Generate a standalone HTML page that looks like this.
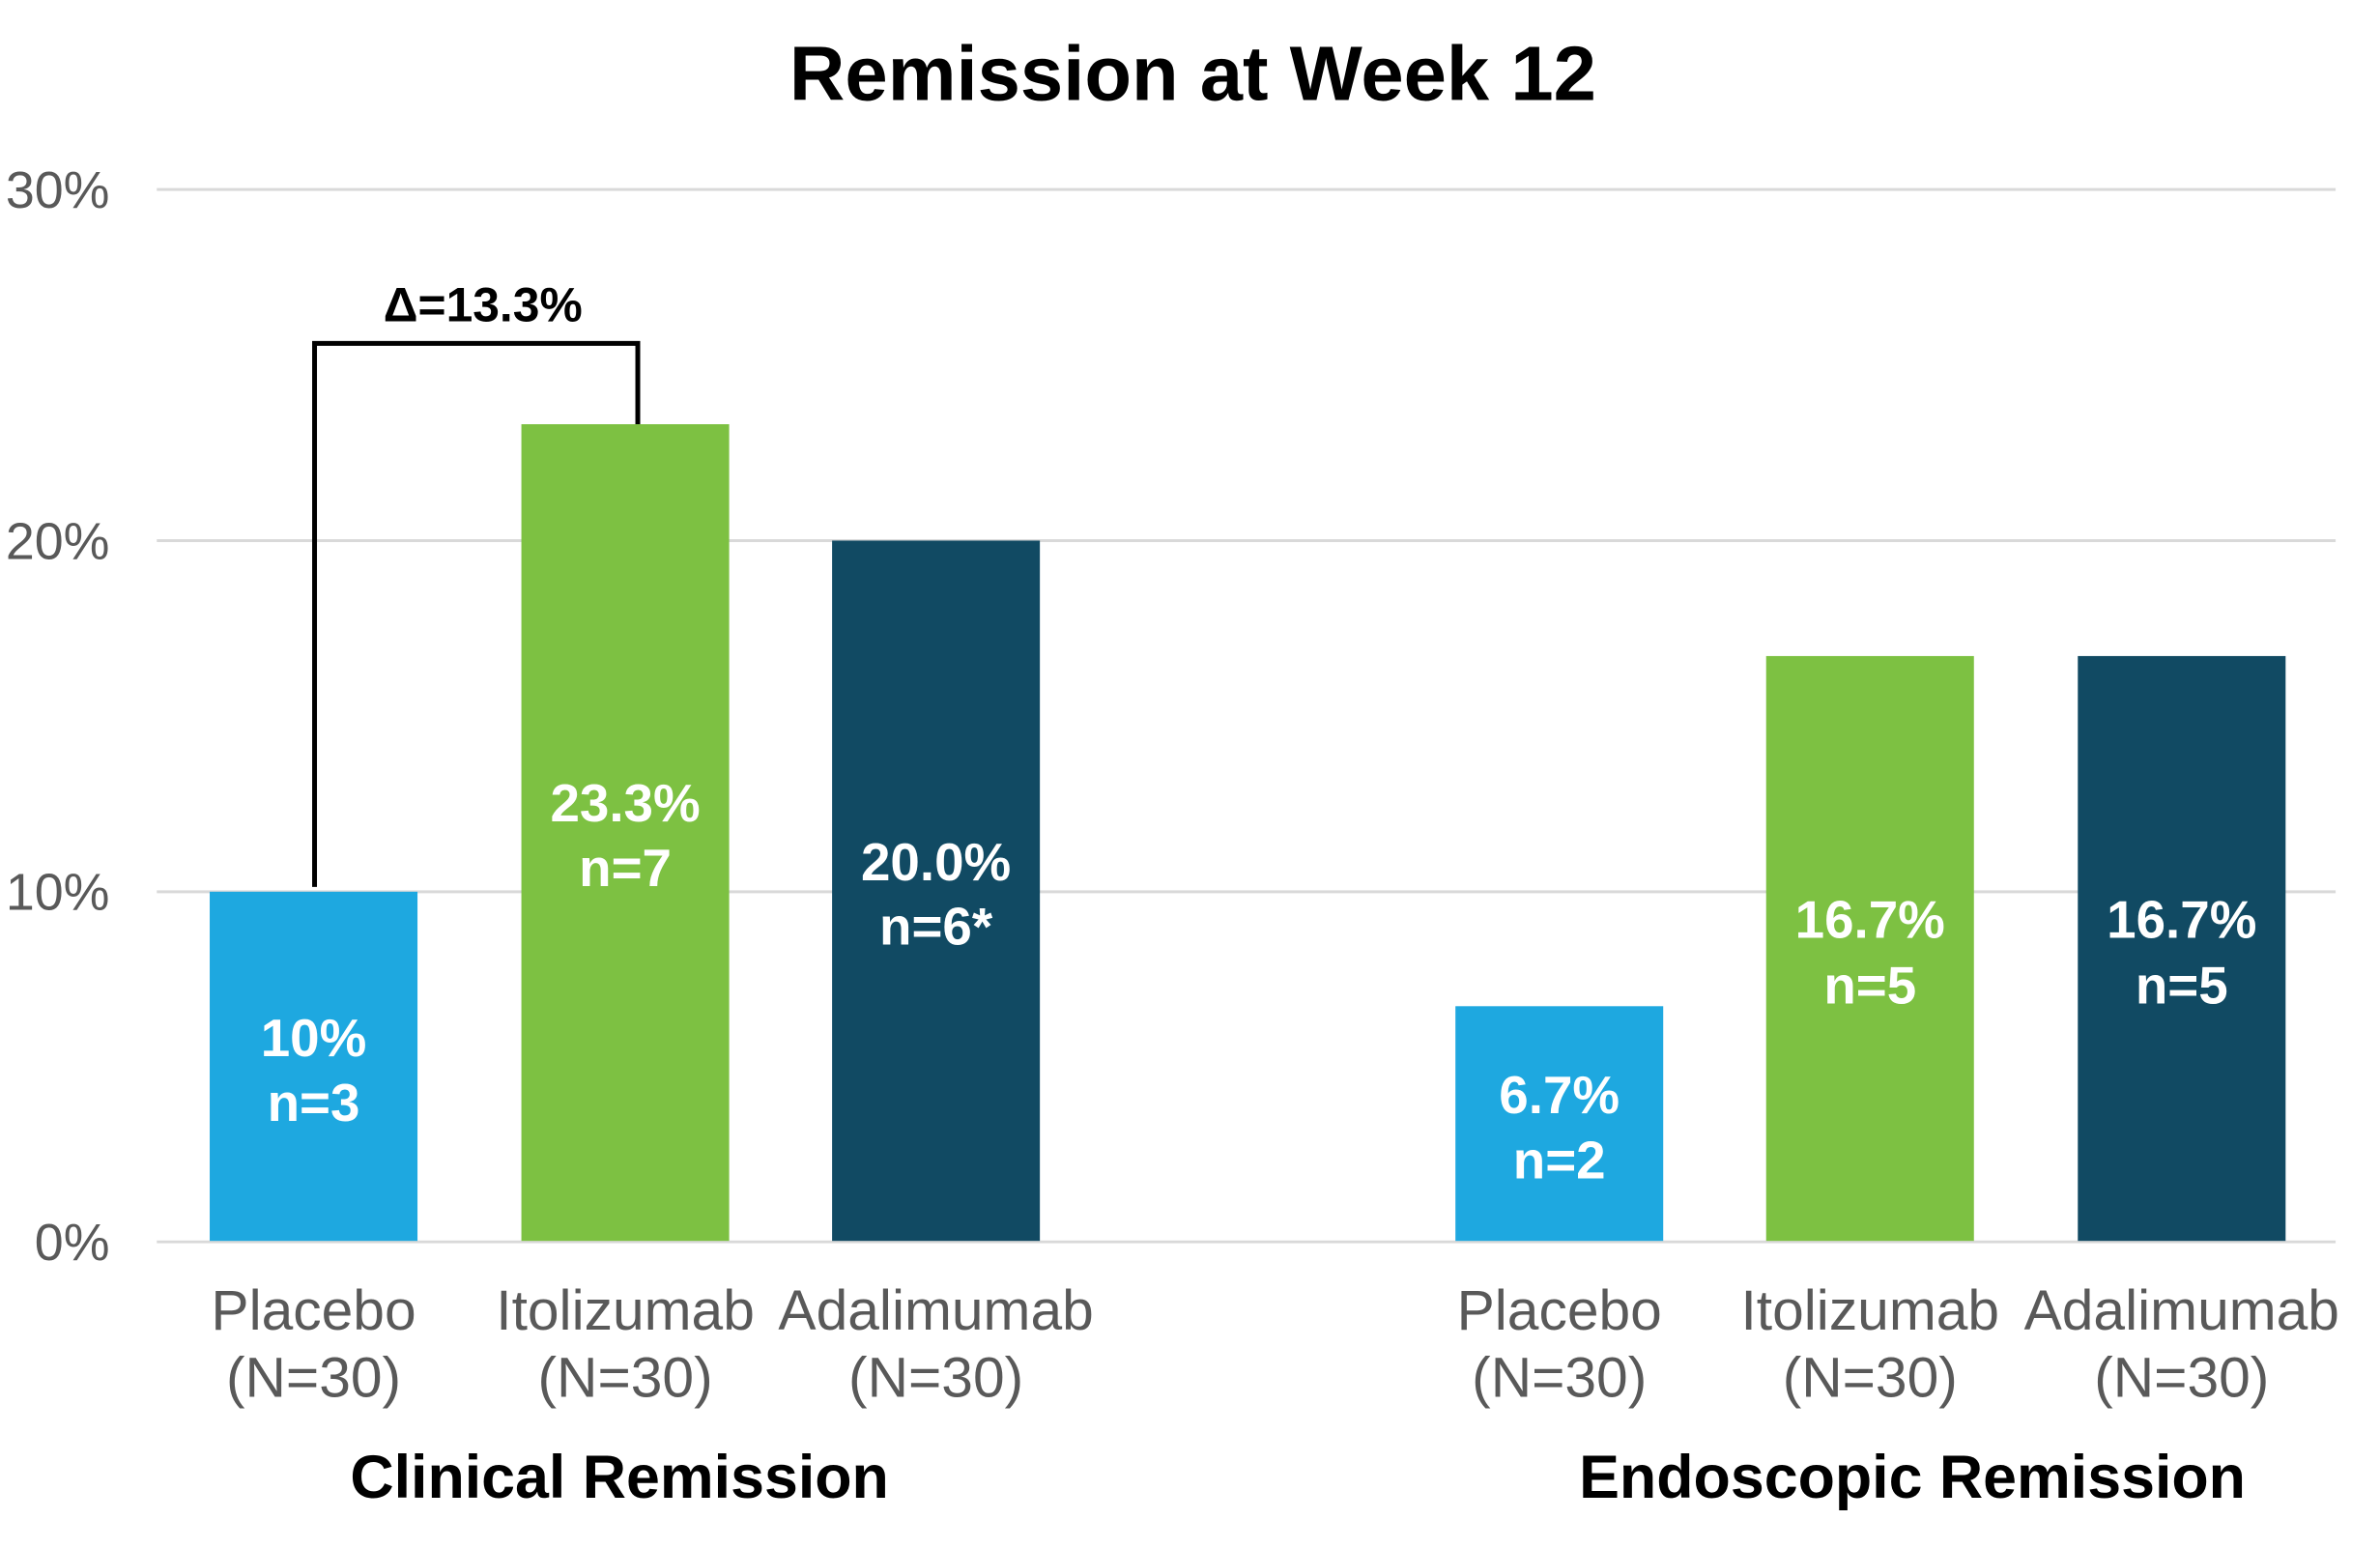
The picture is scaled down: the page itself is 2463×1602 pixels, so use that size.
<!DOCTYPE html>
<html><head><meta charset="utf-8"><style>
html,body{margin:0;padding:0;background:#fff;}
svg{display:block;}
text{font-family:"Liberation Sans",sans-serif;}
</style></head><body>
<svg width="2463" height="1602" viewBox="0 0 2463 1602" xmlns="http://www.w3.org/2000/svg">
<rect width="2463" height="1602" fill="#fff"/>
<g transform="scale(0.9955)">
<text x="1240" y="104" text-anchor="middle" font-size="80" font-weight="bold" fill="#000">Remission at Week 12</text>
<g stroke="#d9d9d9" stroke-width="3">
<line x1="163" y1="197" x2="2428" y2="197"/>
<line x1="163" y1="562" x2="2428" y2="562"/>
<line x1="163" y1="927" x2="2428" y2="927"/>
<line x1="163" y1="1291" x2="2428" y2="1291"/>
</g>
<g font-size="54" fill="#595959" text-anchor="end">
<text x="114" y="216">30%</text>
<text x="114" y="581">20%</text>
<text x="114" y="946">10%</text>
<text x="114" y="1310">0%</text>
</g>
<rect x="218" y="927" width="216" height="363" fill="#1ea8e0"/>
<rect x="542" y="441" width="216" height="849" fill="#7dc142"/>
<rect x="865" y="562" width="216" height="728" fill="#114a63"/>
<rect x="1513" y="1046" width="216" height="244" fill="#1ea8e0"/>
<rect x="1836" y="682" width="216" height="608" fill="#7dc142"/>
<rect x="2160" y="682" width="216" height="608" fill="#114a63"/>
<polyline points="327,922 327,357 663,357 663,441" fill="none" stroke="#000" stroke-width="5"/>
<text x="502" y="334" text-anchor="middle" font-size="50" font-weight="bold" fill="#000">Δ=13.3%</text>
<g font-size="55" font-weight="bold" fill="#fff" text-anchor="middle">
<text x="326" y="1098">10%</text><text x="326" y="1165">n=3</text>
<text x="650" y="854">23.3%</text><text x="650" y="921">n=7</text>
<text x="973" y="915">20.0%</text><text x="973" y="982">n=6*</text>
<text x="1621" y="1157">6.7%</text><text x="1621" y="1225">n=2</text>
<text x="1944" y="975">16.7%</text><text x="1944" y="1043">n=5</text>
<text x="2268" y="975">16.7%</text><text x="2268" y="1043">n=5</text>
</g>
<g font-size="59" fill="#595959" text-anchor="middle">
<text x="326" y="1382">Placebo</text><text x="326" y="1452">(N=30)</text>
<text x="650" y="1382">Itolizumab</text><text x="650" y="1452">(N=30)</text>
<text x="973" y="1382">Adalimumab</text><text x="973" y="1452">(N=30)</text>
<text x="1621" y="1382">Placebo</text><text x="1621" y="1452">(N=30)</text>
<text x="1944" y="1382">Itolizumab</text><text x="1944" y="1452">(N=30)</text>
<text x="2268" y="1382">Adalimumab</text><text x="2268" y="1452">(N=30)</text>
</g>
<g font-size="63" font-weight="bold" fill="#000" text-anchor="middle">
<text x="644" y="1557">Clinical Remission</text>
<text x="1988" y="1557">Endoscopic Remission</text>
</g>
</g>
</svg>
</body></html>
